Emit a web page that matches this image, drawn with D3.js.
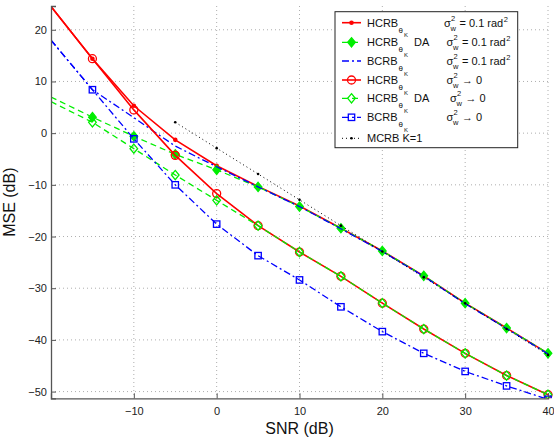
<!DOCTYPE html>
<html>
<head>
<meta charset="utf-8">
<script src="https://cdn.jsdelivr.net/npm/d3@7"></script>
<style>
  body { margin: 0; background: #fff; }
  svg { display: block; font-family: "Liberation Sans", Arial, sans-serif; }
</style>
</head>
<body>
<svg id="chart" width="554" height="441"></svg>
<script>
'use strict';

// data (dB)
const snr = [-20, -15, -10, -5, 0, 5, 10, 15, 20, 25, 30, 35, 40];
const hcrbHigh   = [24.5, 14.4, 5.3, -1.3, -6.3, -10.3, -14.1, -18.4, -22.8, -27.6, -32.9, -37.7, -42.6];
const hcrbDaHigh = [7.0, 3.1, -0.6, -4.1, -7.1, -10.4, -14.2, -18.4, -22.8, -27.6, -32.9, -37.7, -42.6];
const bcrbHigh   = [18.0, 8.4, 3.0, -2.5, -6.5, -10.4, -14.2, -18.5, -22.9, -27.7, -33.0, -37.8, -42.7];
const hcrbZero   = [24.5, 14.4, 4.5, -4.3, -11.7, -17.9, -23.0, -27.7, -32.9, -37.9, -42.6, -46.9, -50.6];
const hcrbDaZero = [6.1, 2.1, -3.0, -8.1, -13.0, -17.9, -23.0, -27.7, -32.9, -37.9, -42.6, -46.9, -50.6];
const bcrbZero   = [18.0, 8.4, -1.1, -10.0, -17.6, -23.7, -28.4, -33.6, -38.4, -42.6, -46.1, -48.9, -51.5];
const mcrbSnr = [-5, 0, 5, 10, 15, 20, 25, 30, 35, 40];
const mcrb    = [2.1, -2.9, -7.9, -12.9, -17.9, -22.9, -27.9, -32.9, -37.9, -42.9];

const xTicks = [-10, 0, 10, 20, 30, 40];
const yTicks = [-50, -40, -30, -20, -10, 0, 10, 20];

const legendNames = ["HCRB", "HCRB", "BCRB", "HCRB", "HCRB", "BCRB", "MCRB K=1"];
const legendDA = [false, true, false, false, true, false, false];
const legendNoise = ["= 0.1 rad", "= 0.1 rad", "= 0.1 rad", "\u2192 0", "\u2192 0", "\u2192 0", null];

// layout
const M = { left: 51, right: 548, top: 6, bottom: 398.3 };
const svg = d3.select("#chart");

const x = d3.scaleLinear().domain([-20, 40]).range([M.left, M.right]);
const y = d3.scaleLinear().domain([-51.3, 24.6]).range([M.bottom, M.top]);

// series styles
const series = [
  { xs: snr, ys: hcrbHigh,   color: "#ff0000", width: 1.6, dash: null,      marker: "dot" },
  { xs: snr, ys: hcrbDaHigh, color: "#00ee00", width: 1.3, dash: "6,4",     marker: "diamondFill" },
  { xs: snr, ys: bcrbHigh,   color: "#0000ff", width: 1.3, dash: "7,3,2,3", marker: null },
  { xs: snr, ys: hcrbZero,   color: "#ff0000", width: 1.6, dash: null,      marker: "circle" },
  { xs: snr, ys: hcrbDaZero, color: "#00ee00", width: 1.3, dash: "6,4",     marker: "diamond" },
  { xs: snr, ys: bcrbZero,   color: "#0000ff", width: 1.3, dash: "7,3,2,3", marker: "square" },
  { xs: mcrbSnr, ys: mcrb,   color: "#000000", width: 1.0, dash: "1,3",     marker: "blackDot" }
];

// grid
const grid = svg.append("g").attr("stroke", "#999").attr("stroke-width", 0.8)
  .attr("stroke-dasharray", "1,3");
grid.selectAll(".gx").data(xTicks).enter().append("line")
  .attr("x1", d => x(d)).attr("x2", d => x(d))
  .attr("y1", M.top).attr("y2", M.bottom);
grid.selectAll(".gy").data(yTicks).enter().append("line")
  .attr("x1", M.left).attr("x2", M.right)
  .attr("y1", d => y(d)).attr("y2", d => y(d));

// clip
svg.append("clipPath").attr("id", "clip").append("rect")
  .attr("x", M.left).attr("y", M.top)
  .attr("width", M.right - M.left + 6).attr("height", M.bottom - M.top);

function drawMarker(sel, type, color) {
  const s = 3.8;
  if (type === "dot") {
    sel.append("circle").attr("r", 2.3).attr("fill", color);
  } else if (type === "blackDot") {
    sel.append("circle").attr("r", 1.3).attr("fill", color);
  } else if (type === "circle") {
    sel.append("circle").attr("r", 4).attr("fill", "none").attr("stroke", color).attr("stroke-width", 1.3);
  } else if (type === "diamond" || type === "diamondFill") {
    sel.append("path").attr("d", `M0,${-s - 0.8}L${s},0L0,${s + 0.8}L${-s},0Z`)
      .attr("fill", type === "diamondFill" ? color : "none")
      .attr("stroke", color).attr("stroke-width", 1.3);
  } else if (type === "square") {
    sel.append("rect").attr("x", -3.2).attr("y", -3.2).attr("width", 6.4).attr("height", 6.4)
      .attr("fill", "none").attr("stroke", color).attr("stroke-width", 1.3);
  }
}

const plot = svg.append("g").attr("clip-path", "url(#clip)");
const line = d3.line().x(d => x(d[0])).y(d => y(d[1]));

series.forEach(s => {
  const pts = s.xs.map((v, i) => [v, s.ys[i]]);
  plot.append("path").datum(pts)
    .attr("d", line)
    .attr("fill", "none")
    .attr("stroke", s.color)
    .attr("stroke-width", s.width)
    .attr("stroke-dasharray", s.dash);
  if (s.marker) {
    pts.filter(p => p[0] > -20).forEach(p => {
      const m = plot.append("g").attr("transform", `translate(${x(p[0])},${y(p[1])})`);
      drawMarker(m, s.marker, s.color);
    });
  }
});

// axes
const axisColor = "#555";
const minus = d => d < 0 ? "\u2212" + Math.abs(d) : d;
const xAxis = svg.append("g").attr("transform", `translate(0,${M.bottom})`)
  .call(d3.axisBottom(x).tickValues(xTicks).tickSize(-5).tickPadding(9).tickFormat(minus));
const yAxis = svg.append("g").attr("transform", `translate(${M.left},0)`)
  .call(d3.axisLeft(y).tickValues(yTicks).tickSize(-5).tickPadding(4).tickFormat(minus));
[xAxis, yAxis].forEach(a => {
  a.select(".domain").attr("stroke", axisColor).attr("stroke-width", 1.3);
  a.selectAll(".tick line").attr("stroke", axisColor);
  a.selectAll(".tick text").attr("fill", "#222").style("font-size", "11px")
    .style("font-family", "'Liberation Sans', Arial, sans-serif");
});

// axis labels
svg.append("text").attr("x", (M.left + M.right) / 2).attr("y", 434)
  .attr("text-anchor", "middle").style("font-size", "16px").attr("fill", "#111")
  .text("SNR (dB)");
svg.append("text").attr("transform", `translate(15,${(M.top + M.bottom) / 2}) rotate(-90)`)
  .attr("text-anchor", "middle").style("font-size", "16px").attr("fill", "#111")
  .text("MSE (dB)");

// legend
const lg = svg.append("g");
lg.append("rect").attr("x", 335).attr("y", 11.7).attr("width", 182.7).attr("height", 136)
  .attr("fill", "#fff").attr("stroke", "#222").attr("stroke-width", 1);

const rowY = [22.7, 42.3, 61, 80, 98.3, 117.3, 138.3];
const sigmaX = [444, 446.5, 446.5, 446.5, 450, 446.5];

series.forEach((s, i) => {
  const cy = rowY[i];
  lg.append("line").attr("x1", 342).attr("x2", 361).attr("y1", cy).attr("y2", cy)
    .attr("stroke", s.color).attr("stroke-width", s.width)
    .attr("stroke-dasharray", s.dash);
  if (s.marker) {
    drawMarker(lg.append("g").attr("transform", `translate(351.5,${cy})`), s.marker, s.color);
  }
  const base = cy + 4;
  lg.append("text").attr("x", 367).attr("y", base)
    .style("font-size", "11px").attr("fill", "#111").text(legendNames[i]);
  if (legendNoise[i] === null) return;

  // theta_K subscript
  lg.append("text").attr("x", 398.5).attr("y", base + 6)
    .style("font-size", "8px").attr("fill", "#111").text("\u03b8");
  lg.append("text").attr("x", 404).attr("y", base + 10.5)
    .style("font-size", "6px").attr("fill", "#111").text("K");
  if (legendDA[i]) {
    lg.append("text").attr("x", 414).attr("y", base)
      .style("font-size", "11px").attr("fill", "#111").text("DA");
  }
  // sigma_w^2
  const sx = sigmaX[i];
  lg.append("text").attr("x", sx).attr("y", base)
    .style("font-size", "11px").attr("fill", "#111").text("\u03c3");
  lg.append("text").attr("x", sx + 7).attr("y", base - 6)
    .style("font-size", "7.5px").attr("fill", "#111").text("2");
  lg.append("text").attr("x", sx + 6.5).attr("y", base + 4)
    .style("font-size", "7.5px").attr("fill", "#111").text("w");
  const nt = lg.append("text").attr("x", sx + 15.5).attr("y", base)
    .style("font-size", "11px").attr("fill", "#111").text(legendNoise[i]);
  if (legendNoise[i].startsWith("=")) {
    const w = nt.node().getComputedTextLength();
    lg.append("text").attr("x", sx + 15.5 + w + 0.5).attr("y", base - 5)
      .style("font-size", "7.5px").attr("fill", "#111").text("2");
  }
});
</script>
</body>
</html>
